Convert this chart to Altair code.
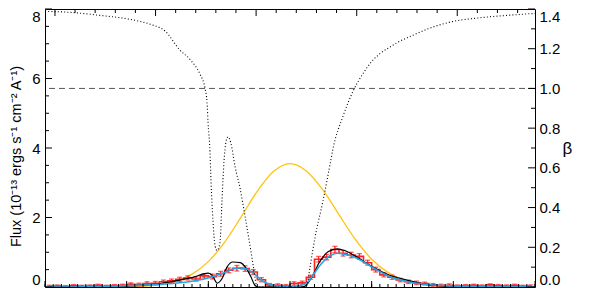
import altair as alt
import pandas as pd

# ---------------- data ----------------
# red binned spectrum (bin centres, flux, 1-sigma errors)
bin_x = [round(-2.95 + 0.1 * i, 2) for i in range(60)]
red_flux = [0.02, 0.03, 0.01, 0.04, 0.02, 0.03, 0.05, 0.02, 0.04, 0.05,
            0.08, 0.07, 0.10, 0.11, 0.15, 0.18, 0.22, 0.26, 0.23, 0.32,
            0.30, 0.38, 0.48, 0.54, 0.53, 0.43, 0.21, 0.06, 0.05, 0.03,
            0.10, 0.12, 0.28, 0.80, 0.86, 1.08, 0.97, 0.92, 0.88, 0.70,
            0.50, 0.35, 0.28, 0.20, 0.15, 0.12, 0.10, 0.06, 0.04, 0.05,
            0.03, 0.04, 0.05, 0.03, 0.06, 0.04, 0.03, 0.05, 0.02, 0.03]
red_err = [0.03, 0.03, 0.03, 0.03, 0.03, 0.03, 0.03, 0.03, 0.03, 0.03,
           0.04, 0.04, 0.05, 0.05, 0.05, 0.05, 0.06, 0.06, 0.06, 0.06,
           0.07, 0.07, 0.07, 0.08, 0.08, 0.07, 0.06, 0.04, 0.04, 0.04,
           0.05, 0.05, 0.06, 0.08, 0.08, 0.09, 0.08, 0.08, 0.08, 0.07,
           0.07, 0.06, 0.06, 0.05, 0.05, 0.05, 0.04, 0.04, 0.04, 0.04,
           0.03, 0.03, 0.03, 0.03, 0.03, 0.03, 0.03, 0.03, 0.03, 0.03]

# blue model
blue_x = [-3.0, -2.69, -2.33, -1.96, -1.59, -1.22, -1.04, -0.92, -0.80, -0.70,
          -0.61, -0.53, -0.43, -0.34, -0.24, -0.12, 0.0, 0.12, 0.21, 0.28,
          0.40, 0.49, 0.58, 0.67, 0.82, 1.02, 1.22, 1.43, 1.65, 1.90,
          2.20, 2.57, 3.0]
blue_y = [0.0, 0.0, 0.01, 0.04, 0.08, 0.16, 0.24, 0.32, 0.42, 0.52,
          0.55, 0.52, 0.36, 0.18, 0.07, 0.02, 0.01, 0.04, 0.12, 0.34,
          0.71, 0.90, 0.97, 0.94, 0.83, 0.55, 0.30, 0.16, 0.08, 0.04,
          0.02, 0.01, 0.0]

# black model
black_x = [-3.0, -2.08, -1.96, -1.59, -1.35, -1.16, -1.07, -1.00, -0.95, -0.89,
           -0.83, -0.77, -0.70, -0.61, -0.54, -0.48, -0.43, -0.39, 0.12, 0.18,
           0.27, 0.37, 0.47, 0.58, 0.67, 0.82, 1.02, 1.22, 1.43, 1.63,
           1.84, 2.20, 3.0]
black_y = [0.0, 0.0, 0.03, 0.10, 0.20, 0.30, 0.37, 0.40, 0.33, 0.11,
           0.25, 0.58, 0.72, 0.70, 0.55, 0.30, 0.05, 0.0, 0.0, 0.02,
           0.30, 0.75, 1.02, 1.10, 1.05, 0.86, 0.57, 0.34, 0.20, 0.09,
           0.04, 0.01, 0.0]

# yellow profile
yel_x = [-3.0, -2.8, -2.6, -2.4, -2.2, -2.0, -1.8, -1.6, -1.4, -1.2,
         -1.0, -0.8, -0.6, -0.4, -0.2, 0.0, 0.2, 0.4, 0.6, 0.8,
         1.0, 1.2, 1.4, 1.6, 1.8, 2.0, 2.2, 2.4, 2.6, 2.8, 3.0]
yel_y = [0.0, 0.0, 0.0, 0.0, 0.0, 0.01, 0.02, 0.06, 0.16, 0.37,
         0.73, 1.29, 2.01, 2.76, 3.33, 3.55, 3.34, 2.80, 2.08, 1.37,
         0.80, 0.42, 0.19, 0.08, 0.03, 0.01, 0.0, 0.0, 0.0, 0.0, 0.0]

# beta (dotted, right axis)
beta_x = [-3.0, -2.69, -2.33, -1.96, -1.71, -1.53, -1.35, -1.22, -1.10, -1.04,
          -1.016, -1.004, -0.98, -0.967, -0.943, -0.918, -0.894, -0.857, -0.833, -0.808,
          -0.784, -0.759, -0.722, -0.673, -0.612, -0.551, -0.49, -0.441, -0.404, -0.245,
          0.0, 0.184, 0.208, 0.245, 0.306, 0.404, 0.49, 0.527, 0.649, 0.771,
          0.894, 1.0, 1.102, 1.21, 1.31, 1.506, 1.69, 1.959, 2.327, 2.694, 3.0]
beta_y = [1.388, 1.383, 1.368, 1.348, 1.323, 1.289, 1.194, 1.144, 1.070, 1.0,
          0.930, 0.831, 0.682, 0.532, 0.333, 0.209, 0.184, 0.224, 0.433, 0.632,
          0.731, 0.756, 0.721, 0.607, 0.498, 0.358, 0.209, 0.085, 0.0, 0.0,
          0.0, 0.0, 0.01, 0.10, 0.249, 0.433, 0.617, 0.697, 0.860, 0.985,
          1.075, 1.135, 1.175, 1.205, 1.230, 1.268, 1.300, 1.334, 1.356, 1.369, 1.378]
beta_ref = [1.0]

# axis tick values
flux_labels = [0, 2, 4, 6, 8]
flux_minor = [0.5, 1, 1.5, 2.5, 3, 3.5, 4.5, 5, 5.5, 6.5, 7, 7.5]
beta_labels = [0.0, 0.2, 0.4, 0.6, 0.8, 1.0, 1.2, 1.4]
beta_minor = [0.1, 0.3, 0.5, 0.7, 0.9, 1.1, 1.3]
bottom_major = [-3, -2, -1, 0, 1, 2, 3]
bottom_minor = [round(-3 + 0.1 * i, 2) for i in range(61)]
top_major = [-2.878, -1.646, -0.415, 0.817, 2.048]
top_minor = [-2.632, -2.386, -2.139, -1.893, -1.400, -1.154, -0.908, -0.662,
             -0.169, 0.077, 0.324, 0.570, 1.063, 1.309, 1.555, 1.802,
             2.294, 2.540, 2.787]

# ---------------- chart ----------------
W, H = 490, 278
RED = "#ff1f1f"
BLUE = "#22a6e6"
YEL = "#ffc20e"
FONT = "Liberation Sans"

xs = alt.Scale(domain=[-3, 3], nice=False, zero=False)
yf = alt.Scale(domain=[0, 8], nice=False, zero=False)
yb = alt.Scale(domain=[0, 1.4], nice=False, zero=False)

hist_df = pd.DataFrame({"x": bin_x, "f": red_flux,
                        "lo": [f - e for f, e in zip(red_flux, red_err)],
                        "hi": [f + e for f, e in zip(red_flux, red_err)]})

left_axis = alt.Axis(values=flux_labels, format="d", ticks=False, domain=False, grid=False,
                     orient="left", labelFontSize=15, labelPadding=5, labelColor="black",
                     labelFlush=True, labelFlushOffset=0,
                     labelFont=FONT, titleFont=FONT,
                     title="Flux (10⁻¹³ ergs s⁻¹ cm⁻² A⁻¹)", titleFontSize=14.5,
                     titleFontWeight="normal", titleColor="black",
                     titleAngle=-90, titleX=-29, titleY=147,
                     titleAlign="center", titleBaseline="middle")

right_axis = alt.Axis(values=beta_labels, format=".1f", ticks=False, domain=False, grid=False,
                      orient="right", labelFontSize=15, labelPadding=4, labelColor="black",
                      labelFlush=True, labelFlushOffset=0,
                      labelFont=FONT, titleFont=FONT,
                      title="β", titleFontSize=17, titleFontWeight="normal", titleColor="black",
                      titleAngle=0, titleX=32, titleY=139, titleAlign="center", titleBaseline="middle")

yellow = alt.Chart(pd.DataFrame({"x": yel_x, "y": yel_y})).mark_line(
    color=YEL, strokeWidth=1.3, interpolate="monotone", clip=True).encode(
    x=alt.X("x:Q", scale=xs, axis=None), y=alt.Y("y:Q", scale=yf, axis=left_axis))

hist = alt.Chart(hist_df).mark_line(
    color=RED, strokeWidth=1.6, interpolate="step", clip=True).encode(
    x=alt.X("x:Q", scale=xs, axis=None), y=alt.Y("f:Q", scale=yf, axis=None))

err = alt.Chart(hist_df).mark_rule(color=RED, strokeWidth=1.3, clip=True).encode(
    x=alt.X("x:Q", scale=xs, axis=None), y=alt.Y("lo:Q", scale=yf, axis=None), y2="hi:Q")
cap_lo = alt.Chart(hist_df).mark_tick(color=RED, orient="horizontal", size=5, thickness=1.3, clip=True).encode(
    x=alt.X("x:Q", scale=xs, axis=None), y=alt.Y("lo:Q", scale=yf, axis=None))
cap_hi = alt.Chart(hist_df).mark_tick(color=RED, orient="horizontal", size=5, thickness=1.3, clip=True).encode(
    x=alt.X("x:Q", scale=xs, axis=None), y=alt.Y("hi:Q", scale=yf, axis=None))

black = alt.Chart(pd.DataFrame({"x": black_x, "y": black_y})).mark_line(
    color="black", strokeWidth=1.2, interpolate="monotone", clip=True).encode(
    x=alt.X("x:Q", scale=xs, axis=None), y=alt.Y("y:Q", scale=yf, axis=None))

blue = alt.Chart(pd.DataFrame({"x": blue_x, "y": blue_y})).mark_line(
    color=BLUE, strokeWidth=1.6, interpolate="monotone", clip=True).encode(
    x=alt.X("x:Q", scale=xs, axis=None), y=alt.Y("y:Q", scale=yf, axis=None))

dashed = alt.Chart(pd.DataFrame({"b": beta_ref})).mark_rule(
    color="#555555", strokeWidth=1, strokeDash=[6, 4]).encode(
    y=alt.Y("b:Q", scale=yb, axis=right_axis))

dotted = alt.Chart(pd.DataFrame({"x": beta_x, "b": beta_y})).mark_line(
    color="black", strokeWidth=1.1, strokeDash=[1, 2.2], interpolate="monotone", clip=True).encode(
    x=alt.X("x:Q", scale=xs, axis=None), y=alt.Y("b:Q", scale=yb, axis=None))


def xticks(vals, top, length):
    enc = dict(y=alt.value(0), y2=alt.value(length)) if top else dict(y=alt.value(H), y2=alt.value(H - length))
    return alt.Chart(pd.DataFrame({"v": vals})).mark_rule(color="black", strokeWidth=1).encode(
        x=alt.X("v:Q", scale=xs, axis=None), **enc)


def yticks(vals, scale, right, length):
    enc = dict(x=alt.value(W), x2=alt.value(W - length)) if right else dict(x=alt.value(0), x2=alt.value(length))
    return alt.Chart(pd.DataFrame({"v": vals})).mark_rule(color="black", strokeWidth=1).encode(
        y=alt.Y("v:Q", scale=scale, axis=None), **enc)


chart = alt.layer(
    yellow, hist, err, cap_lo, cap_hi, black, blue, dashed, dotted,
    xticks(bottom_minor, False, 3), xticks(bottom_major, False, 6),
    xticks(top_minor, True, 4), xticks(top_major, True, 7),
    yticks(flux_minor, yf, False, 4), yticks(flux_labels, yf, False, 7),
    yticks(beta_minor, yb, True, 4), yticks(beta_labels, yb, True, 7),
).resolve_scale(y="independent").properties(
    width=W, height=H,
    padding={"left": 37, "top": 1, "right": 55, "bottom": 8},
    autosize=alt.AutoSizeParams(type="none"),
).configure_view(stroke="black", strokeWidth=1)

chart.save("out.html", embed_options={"renderer": "svg", "actions": False})
